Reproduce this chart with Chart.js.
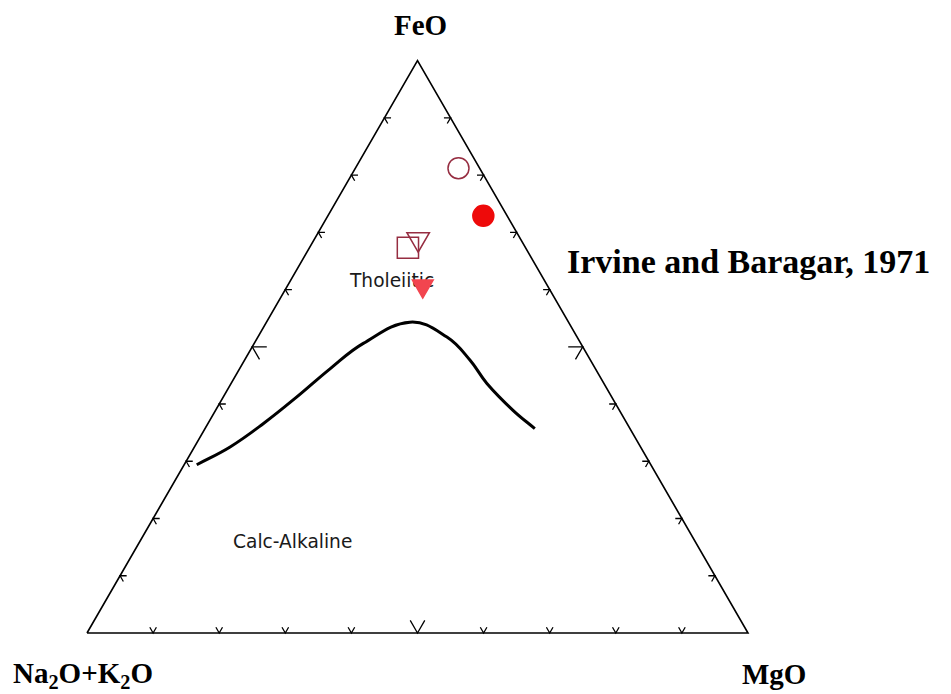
<!DOCTYPE html>
<html>
<head>
<meta charset="utf-8">
<title>AFM diagram</title>
<script src="https://cdn.jsdelivr.net/npm/chart.js@4.4.0/dist/chart.umd.min.js"></script>
<style>
  body { margin: 0; background: #fff; }
  #wrap { position: relative; width: 951px; height: 694px; overflow: hidden; }
  #wrap canvas { position: absolute; left: 0; top: 0; z-index: 2; }
  .lbl { position: absolute; z-index: 1; white-space: nowrap; color: #000;
         font-family: 'Liberation Serif', 'Times New Roman', serif; font-weight: bold;
         font-size: 29px; line-height: 29px; }
  .field { position: absolute; z-index: 1; white-space: nowrap; color: #1a1a1a;
           font-family: 'DejaVu Sans', sans-serif; font-size: 18.6px; line-height: 18px; }
  .sub { font-size: 0.7em; position: relative; top: 0.3em; }
</style>
</head>
<body>
<div id="wrap">
  <div class="lbl" style="left:394px; top:11px;">FeO</div>
  <div class="lbl" style="left:13px; top:659px;">Na<span class="sub">2</span>O+K<span class="sub">2</span>O</div>
  <div class="lbl" style="left:742px; top:660px;">MgO</div>
  <div class="lbl" style="left:567px; top:245px; font-size:34px; line-height:34px;">Irvine and Baragar, 1971</div>
  <div class="field" style="left:350px; top:272px;">Tholeiitic</div>
  <div class="field" style="left:233px; top:533px;">Calc-Alkaline</div>
  <canvas id="afm" width="951" height="694"></canvas>
</div>
<script>
// corners of the AFM triangle (A = alkalis, F = FeO, M = MgO)
const corners = ['Na2O+K2O', 'FeO', 'MgO'];
// tick marks along every side, in %
const tickValues = [10, 20, 30, 40, 50, 60, 70, 80, 90];

// Irvine & Baragar (1971) tholeiitic / calc-alkaline boundary
const curveA = [68.7, 62.1, 55.0, 47.7, 40.2, 32.9, 24.0, 19.7, 18.2, 17.7, 16.1, 14.4];
const curveF = [29.4, 32.5, 36.6, 41.2, 46.2, 50.6, 54.3, 51.7, 47.6, 43.6, 38.9, 35.7];
const curveM = [1.9, 5.4, 8.4, 11.1, 13.7, 16.5, 21.7, 28.6, 34.1, 38.7, 45.0, 49.9];

// analysed samples
const sampleNames = ['Sample 1', 'Sample 2', 'Sample 3', 'Sample 4', 'Sample 5'];
const sampleA = [3.2, 3.6, 17.8, 15.5, 18.9];
const sampleF = [81.2, 72.8, 67.3, 68.8, 60.6];
const sampleM = [15.6, 23.5, 14.9, 15.7, 20.5];

// ternary -> cartesian (A bottom-left, M bottom-right, F top)
function toXY(a, f, m) {
    const s = a + f + m;
    return { x: 100 * (m + f / 2) / s, y: 100 * f * Math.sqrt(3) / 2 / s };
}

// triangle outline
const outline = [toXY(100, 0, 0), toXY(0, 0, 100), toXY(0, 100, 0), toXY(100, 0, 0)];

// little arrow ticks on the sides
const gap = { x: NaN, y: NaN };
const ticks = [];
function addTick(p, d1, d2, len) {
    ticks.push({ x: p.x + d1[0] * len, y: p.y + d1[1] * len });
    ticks.push(p);
    ticks.push({ x: p.x + d2[0] * len, y: p.y + d2[1] * len });
    ticks.push(gap);
}
const s60 = Math.sqrt(3) / 2;
tickValues.forEach(function (t) {
    const len = t === 50 ? 2.2 : 1.0;
    addTick(toXY(100 - t, 0, t), [-0.5, s60], [0.5, s60], len);   // bottom
    addTick(toXY(100 - t, t, 0), [1, 0], [0.5, -s60], len);       // left
    addTick(toXY(0, t, 100 - t), [-1, 0], [-0.5, -s60], len);     // right
});

const curve = curveA.map(function (a, i) { return toXY(a, curveF[i], curveM[i]); });

// marker look per sample
const maroon = 'rgb(150, 45, 65)';
const sampleStyle = [
    { pointStyle: 'circle', radius: 10.5, bg: 'rgba(0,0,0,0)', border: maroon, rot: 0 },
    { pointStyle: 'circle', radius: 10.5, bg: '#EE0A0A', border: '#EE0A0A', rot: 0 },
    { pointStyle: 'rect', radius: 15, bg: 'rgba(0,0,0,0)', border: maroon, rot: 0 },
    { pointStyle: 'triangle', radius: 13, bg: 'rgba(0,0,0,0)', border: maroon, rot: 180 },
    { pointStyle: 'triangle', radius: 12, bg: '#F2454F', border: '#F2454F', rot: 180 }
];

const datasets = [
    { label: 'outline', data: outline, showLine: true, borderColor: '#000', borderWidth: 1.6, pointRadius: 0 },
    { label: 'ticks', data: ticks, showLine: true, spanGaps: false, borderColor: '#000', borderWidth: 1.3, pointRadius: 0 },
    { label: 'boundary', data: curve, showLine: true, borderColor: '#000', borderWidth: 3,
      tension: 0.4, pointRadius: 0 }
];
sampleNames.forEach(function (name, i) {
    const st = sampleStyle[i];
    datasets.push({
        label: name,
        data: [toXY(sampleA[i], sampleF[i], sampleM[i])],
        pointStyle: st.pointStyle,
        pointRadius: st.radius,
        pointRotation: st.rot,
        pointBackgroundColor: st.bg,
        pointBorderColor: st.border,
        pointBorderWidth: 1.5
    });
});

// pixel geometry: triangle base 87..748 px at y = 633, 6.61 px per %
const pxPerUnit = 6.61;
new Chart(document.getElementById('afm').getContext('2d'), {
    type: 'scatter',
    data: { datasets: datasets },
    options: {
        responsive: false,
        devicePixelRatio: 1,
        animation: false,
        layout: { padding: 0, autoPadding: false },
        plugins: { legend: { display: false }, tooltip: { enabled: false } },
        scales: {
            x: { type: 'linear', display: false, min: -87 / pxPerUnit, max: (951 - 87) / pxPerUnit },
            y: { type: 'linear', display: false, min: -(694 - 633) / pxPerUnit, max: 633 / pxPerUnit }
        }
    }
});
</script>
</body>
</html>
